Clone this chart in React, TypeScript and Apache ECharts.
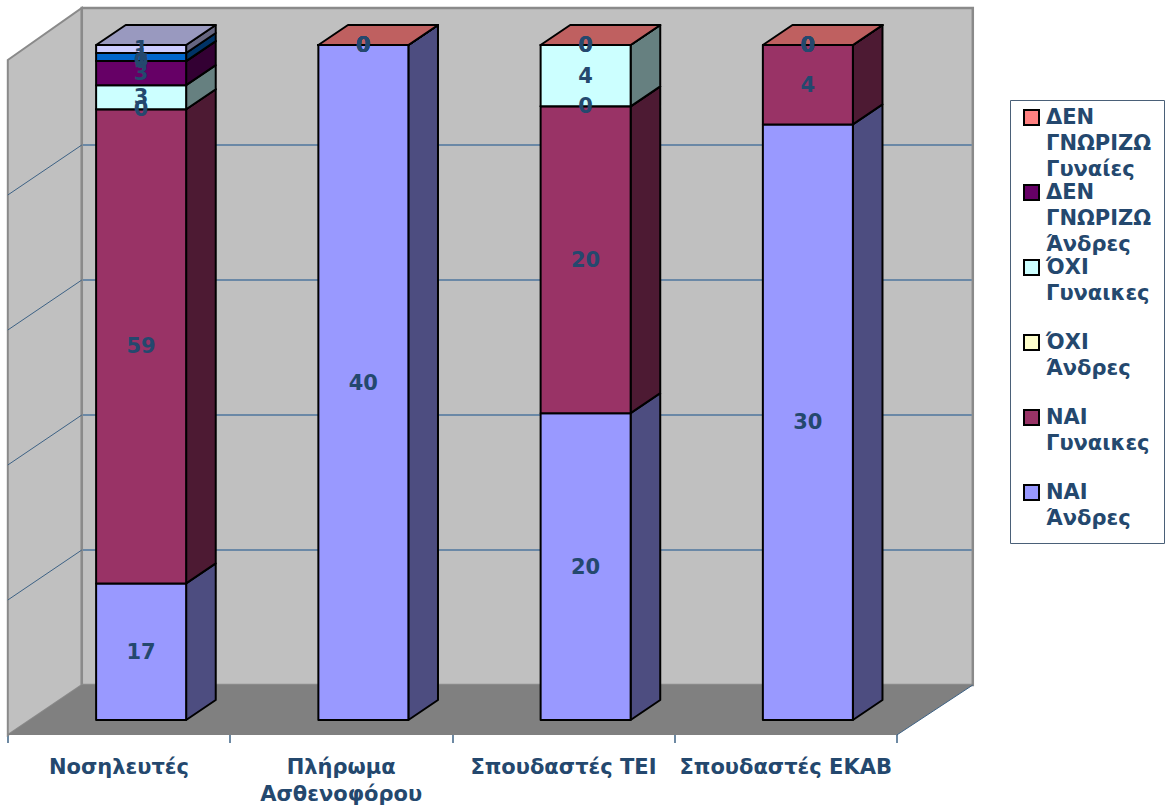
import React, { useEffect, useRef } from "react";
import * as echarts from "echarts";

// ---- data -------------------------------------------------------------
const categories = [
  "Νοσηλευτές",
  "Πλήρωμα Ασθενοφόρου",
  "Σπουδαστές ΤΕΙ",
  "Σπουδαστές ΕΚΑΒ",
];

const seriesNames = [
  "ΝΑΙ Άνδρες",
  "ΝΑΙ Γυναικες",
  "ΌΧΙ Άνδρες",
  "ΌΧΙ Γυναικες",
  "ΔΕΝ ΓΝΩΡΙΖΩ Άνδρες",
  "ΔΕΝ ΓΝΩΡΙΖΩ Γυναίες",
  "ΔΕΝ ΑΠΑΝΤΩ Άνδρες",
  "ΔΕΝ ΑΠΑΝΤΩ Γυναίκες",
];

const naiAndres = [17, 40, 20, 30];
const naiGynaikes = [59, 0, 20, 4];
const oxiAndres = [0, 0, 0, 0];
const oxiGynaikes = [3, 0, 4, 0];
const denGnorizoAndres = [3, 0, 0, 0];
const denGnorizoGynaikes = [0, 0, 0, 0];
const denApantoAndres: (number | null)[] = [1, null, null, null];
const denApantoGynaikes: (number | null)[] = [1, null, null, null];

const seriesValues: (number | null)[][] = [
  naiAndres,
  naiGynaikes,
  oxiAndres,
  oxiGynaikes,
  denGnorizoAndres,
  denGnorizoGynaikes,
  denApantoAndres,
  denApantoGynaikes,
];

const seriesColors = [
  "#9999FF",
  "#993366",
  "#FFFFCC",
  "#CCFFFF",
  "#660066",
  "#FF8080",
  "#0066CC",
  "#CCCCFF",
];

// number of series listed in the legend box (the rest do not fit)
const LEGEND_COUNT = 6;

// ---- layout -----------------------------------------------------------
const W = 1167;
const H = 807;
const GRID_LEFT = 30; // front plane of the columns
const GRID_WIDTH = 889;
const GRID_TOP = 45;
const GRID_BOTTOM_Y = 720;
const FLOOR_DX = 74; // full floor depth, projected
const FLOOR_DY = 50;
const BAR_FRONT = 0.3; // depth of the column fronts (0 = front edge, 1 = back wall)
const BAR_DEPTH = 0.4;
const BAR_WIDTH_RATIO = 0.405;
const TEXT_COLOR = "#24486E";
const FONT = '"DejaVu Sans", Verdana, sans-serif';
const FONT_SIZE = 21;

const AXIS_LEFT = GRID_LEFT - BAR_FRONT * FLOOR_DX;
const AXIS_Y = GRID_BOTTOM_Y + BAR_FRONT * FLOOR_DY;

const shade = (hex: string, f: number) => {
  const n = parseInt(hex.slice(1), 16);
  const r = Math.round(((n >> 16) & 255) * f);
  const g = Math.round(((n >> 8) & 255) * f);
  const b = Math.round((n & 255) * f);
  return `rgb(${r},${g},${b})`;
};

// 100% stacking: [catIndex, lowPct, highPct, rawValue, isTopOfStack]
const buildStackData = (s: number) => {
  const out: number[][] = [];
  categories.forEach((_, i) => {
    const v = seriesValues[s][i];
    if (v === null || v === undefined) return;
    let total = 0;
    let below = 0;
    let lastSeries = 0;
    seriesValues.forEach((vals, k) => {
      const x = vals[i];
      if (x === null || x === undefined) return;
      total += x;
      if (k < s) below += x;
      lastSeries = k;
    });
    const lo = (below / total) * 100;
    const hi = ((below + v) / total) * 100;
    out.push([i, lo, hi, v, lastSeries === s ? 1 : 0]);
  });
  return out;
};

const renderBackdrop = (_params: any, api: any) => {
  const band = api.size([1, 0])[0];
  const left = api.coord([0, 0])[0] - band / 2;
  const right = api.coord([categories.length - 1, 0])[0] + band / 2;
  const y0 = api.coord([0, 0])[1];
  const y100 = api.coord([0, 100])[1];
  // move a point of the column-front plane to depth d
  const P = (x: number, y: number, d: number) => [
    x + (d - BAR_FRONT) * FLOOR_DX,
    y - (d - BAR_FRONT) * FLOOR_DY,
  ];
  const wallGray = "#C0C0C0";
  const edgeGray = "#8A8A8A";
  const children: any[] = [];
  // side wall
  const sTop = P(left, y100, 0);
  const bTL = P(left, y100, 1);
  const bBR = P(right, y0, 1);
  children.push({
    type: "polygon",
    shape: { points: [[sTop[0], sTop[1]], [bTL[0], bTL[1] - 2], P(left, y0, 1), P(left, y0, 0)] },
    style: { fill: wallGray, stroke: edgeGray, lineWidth: 2 },
  });
  // back wall
  children.push({
    type: "rect",
    shape: { x: bTL[0], y: bTL[1] - 2, width: bBR[0] - bTL[0] + 2, height: bBR[1] - bTL[1] + 2 },
    style: { fill: wallGray, stroke: edgeGray, lineWidth: 2.5 },
  });
  // floor
  children.push({
    type: "polygon",
    shape: { points: [P(left, y0, 0), P(left, y0, 1), [bBR[0] + 2, bBR[1]], P(right, y0, 0)] },
    style: { fill: "#808080" },
  });
  // gridlines
  [20, 40, 60, 80].forEach((v) => {
    const yv = api.coord([0, v])[1];
    const a = P(left, yv, 1);
    const b = P(right, yv, 1);
    children.push({
      type: "line",
      shape: { x1: a[0] + 1, y1: a[1], x2: b[0] + 1, y2: b[1] },
      style: { stroke: "#6A88A6", lineWidth: 2 },
    });
    const c = P(left, yv, 0);
    children.push({
      type: "line",
      shape: { x1: c[0], y1: c[1], x2: a[0], y2: a[1] },
      style: { stroke: "#3D6285", lineWidth: 1 },
    });
  });
  // right floor edge
  const f0 = P(right, y0, 0);
  children.push({
    type: "line",
    shape: { x1: f0[0], y1: f0[1], x2: bBR[0] + 2, y2: bBR[1] },
    style: { stroke: "#3D6285", lineWidth: 1 },
  });
  return { type: "group", children };
};

const renderSegment = (color: string) => (_params: any, api: any) => {
  const cat = api.value(0);
  const lo = api.value(1);
  const hi = api.value(2);
  const raw = api.value(3);
  const isTop = api.value(4);
  const band = api.size([1, 0])[0];
  const pLo = api.coord([cat, lo]);
  const pHi = api.coord([cat, hi]);
  const w = band * BAR_WIDTH_RATIO;
  const x0 = pLo[0] - w / 2;
  const x1 = pLo[0] + w / 2;
  const yB = pLo[1];
  const yT = pHi[1];
  const dx = FLOOR_DX * BAR_DEPTH;
  const dy = FLOOR_DY * BAR_DEPTH;
  const edge = { stroke: "#000", lineWidth: 2, lineJoin: "round" };
  const children: any[] = [
    {
      type: "polygon",
      shape: { points: [[x1, yB], [x1 + dx, yB - dy], [x1 + dx, yT - dy], [x1, yT]] },
      style: { fill: shade(color, 0.5), ...edge },
    },
    {
      type: "rect",
      shape: { x: x0, y: yT, width: w, height: yB - yT },
      style: { fill: color, ...edge },
    },
  ];
  if (isTop) {
    children.push({
      type: "polygon",
      shape: { points: [[x0, yT], [x0 + dx, yT - dy], [x1 + dx, yT - dy], [x1, yT]] },
      style: { fill: shade(color, 0.75), ...edge },
    });
  }
  children.push({
    type: "text",
    z2: 100,
    style: {
      text: String(raw),
      x: (x0 + x1) / 2,
      y: (yT + yB) / 2,
      align: "center",
      verticalAlign: "middle",
      fontSize: FONT_SIZE,
      fontWeight: "bold",
      fontFamily: FONT,
      fill: TEXT_COLOR,
    },
  });
  return { type: "group", children };
};

const buildLegend = () => {
  const items: any[] = [
    {
      type: "rect",
      shape: { x: 1010.5, y: 100.5, width: 154, height: 443 },
      style: { fill: "#FFFFFF", stroke: "#4A6078", lineWidth: 1 },
    },
  ];
  for (let k = 0; k < LEGEND_COUNT; k++) {
    const s = LEGEND_COUNT - 1 - k;
    const top = 110 + 75 * k;
    items.push({
      type: "rect",
      shape: { x: 1024, y: top, width: 15, height: 15 },
      style: { fill: seriesColors[s], stroke: "#000", lineWidth: 2 },
    });
    items.push({
      type: "text",
      style: {
        text: seriesNames[s].split(" ").join("\n"),
        x: 1046,
        y: top - 6,
        align: "left",
        verticalAlign: "top",
        lineHeight: 26,
        fontSize: FONT_SIZE,
        fontWeight: "bold",
        fontFamily: FONT,
        fill: TEXT_COLOR,
      },
    });
  }
  return items;
};

// long category names go on two lines
const wrapCategory = (name: string) =>
  name.length > 16 ? name.replace(" ", "\n") : name;

export default function App() {
  const ref = useRef<HTMLDivElement>(null);

  useEffect(() => {
    if (!ref.current) return;
    document.body.style.margin = "0";
    const chart = echarts.init(ref.current, undefined, { renderer: "svg" });
    chart.setOption({
      animation: false,
      backgroundColor: "#FFFFFF",
      grid: [
        {
          left: GRID_LEFT,
          width: GRID_WIDTH,
          top: GRID_TOP,
          height: GRID_BOTTOM_Y - GRID_TOP,
        },
        {
          left: AXIS_LEFT,
          width: GRID_WIDTH,
          top: AXIS_Y - 10,
          height: 10,
        },
      ],
      xAxis: [
        {
          type: "category",
          gridIndex: 0,
          data: categories,
          show: false,
        },
        {
          type: "category",
          gridIndex: 1,
          data: categories,
          position: "bottom",
          axisLine: { lineStyle: { color: "#3D6285", width: 1.5 } },
          axisTick: { show: true, length: 10, lineStyle: { color: "#3D6285", width: 1.5 } },
          axisLabel: {
            interval: 0,
            margin: 20,
            lineHeight: 27,
            fontSize: FONT_SIZE,
            fontWeight: "bold",
            fontFamily: FONT,
            color: TEXT_COLOR,
            hideOverlap: false,
            formatter: wrapCategory,
          },
        },
      ],
      yAxis: [
        { type: "value", gridIndex: 0, min: 0, max: 100, show: false },
        { type: "value", gridIndex: 1, show: false },
      ],
      series: [
        {
          type: "custom",
          name: "backdrop",
          xAxisIndex: 0,
          yAxisIndex: 0,
          z: 1,
          silent: true,
          renderItem: renderBackdrop,
          data: [[0]],
        },
        ...seriesNames.map((name, s) => ({
          type: "custom",
          name,
          xAxisIndex: 0,
          yAxisIndex: 0,
          z: 2,
          renderItem: renderSegment(seriesColors[s]),
          encode: { x: 0, y: [1, 2] },
          data: buildStackData(s),
        })),
      ],
      graphic: buildLegend(),
    });
    return () => chart.dispose();
  }, []);

  return (
    <div
      ref={ref}
      style={{ position: "fixed", left: 0, top: 0, width: W, height: H }}
    />
  );
}
